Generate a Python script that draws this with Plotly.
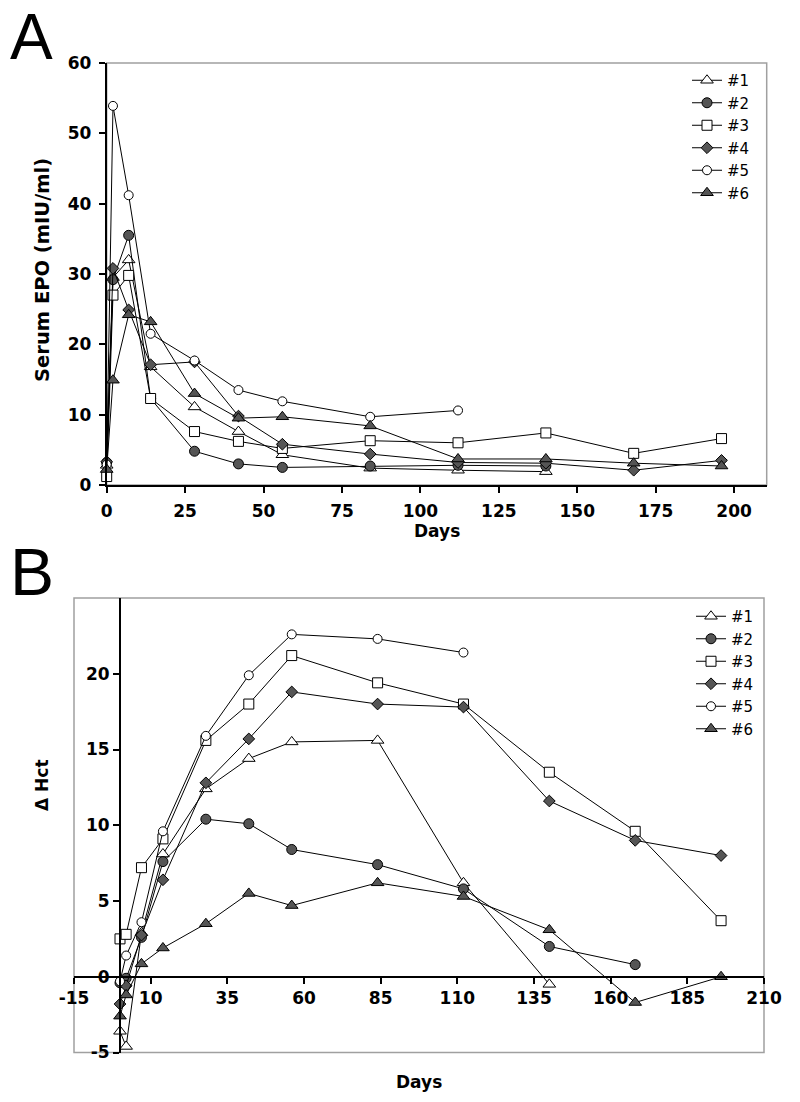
import plotly.graph_objects as go

W, H = 800, 1102

# ---------------- data ----------------
names = ["#1", "#2", "#3", "#4", "#5", "#6"]

days_a1 = [0, 2, 7, 14, 28, 42, 56, 84, 112, 140]
epo_1 = [2.8, 29.5, 32.0, 16.8, 11.1, 7.6, 4.3, 2.4, 2.1, 1.9]
days_a2 = [0, 2, 7, 14, 28, 42, 56, 84, 112, 140]
epo_2 = [3.2, 29.2, 35.5, 12.3, 4.8, 3.0, 2.5, 2.7, 2.8, 2.7]
days_a3 = [0, 2, 7, 14, 28, 42, 56, 84, 112, 140, 168, 196]
epo_3 = [1.2, 27.0, 29.8, 12.3, 7.6, 6.2, 5.2, 6.3, 6.0, 7.4, 4.5, 6.6]
days_a4 = [0, 2, 7, 14, 28, 42, 56, 84, 112, 140, 168, 196]
epo_4 = [3.3, 30.8, 24.9, 17.1, 17.5, 9.8, 5.8, 4.4, 3.2, 3.1, 2.1, 3.5]
days_a5 = [0, 2, 7, 14, 28, 42, 56, 84, 112]
epo_5 = [2.9, 53.9, 41.2, 21.5, 17.7, 13.5, 11.9, 9.7, 10.6]
days_a6 = [0, 2, 7, 14, 28, 42, 56, 84, 112, 140, 168, 196]
epo_6 = [2.2, 14.9, 24.2, 23.2, 13.0, 9.5, 9.7, 8.4, 3.7, 3.7, 3.1, 2.7]

days_b1 = [0, 2, 7, 14, 28, 42, 56, 84, 112, 140]
hct_1 = [-3.6, -4.6, 2.9, 8.1, 12.4, 14.4, 15.5, 15.6, 6.2, -0.5]
days_b2 = [0, 2, 7, 14, 28, 42, 56, 84, 112, 140, 168]
hct_2 = [-0.4, -0.1, 2.6, 7.6, 10.4, 10.1, 8.4, 7.4, 5.8, 2.0, 0.8]
days_b3 = [0, 2, 7, 14, 28, 42, 56, 84, 112, 140, 168, 196]
hct_3 = [2.5, 2.8, 7.2, 9.1, 15.6, 18.0, 21.2, 19.4, 18.0, 13.5, 9.6, 3.7]
days_b4 = [0, 2, 7, 14, 28, 42, 56, 84, 112, 140, 168, 196]
hct_4 = [-1.8, -0.6, 2.75, 6.4, 12.8, 15.7, 18.8, 18.0, 17.8, 11.6, 9.0, 8.0]
days_b5 = [0, 2, 7, 14, 28, 42, 56, 84, 112]
hct_5 = [-0.3, 1.4, 3.6, 9.6, 15.9, 19.9, 22.6, 22.3, 21.4]
days_b6 = [0, 2, 7, 14, 28, 42, 56, 84, 112, 140, 168, 196]
hct_6 = [-2.6, -1.2, 0.85, 1.9, 3.5, 5.5, 4.7, 6.2, 5.3, 3.1, -1.7, 0.0]

xticks_a = [0, 25, 50, 75, 100, 125, 150, 175, 200]
yticks_a = [0, 10, 20, 30, 40, 50, 60]
xticks_b = [-15, 10, 35, 60, 85, 110, 135, 160, 185, 210]
yticks_b = [-5, 0, 5, 10, 15, 20]

# ---------------- styles ----------------
GRAY = "#555555"
styles = [
    dict(symbol="triangle-up", color="white", size=11),
    dict(symbol="circle", color=GRAY, size=10),
    dict(symbol="square", color="white", size=10),
    dict(symbol="diamond", color=GRAY, size=9),
    dict(symbol="circle", color="white", size=9),
    dict(symbol="triangle-up", color=GRAY, size=11),
]

series_a = [(days_a1, epo_1), (days_a2, epo_2), (days_a3, epo_3),
            (days_a4, epo_4), (days_a5, epo_5), (days_a6, epo_6)]
series_b = [(days_b1, hct_1), (days_b2, hct_2), (days_b3, hct_3),
            (days_b4, hct_4), (days_b5, hct_5), (days_b6, hct_6)]

fig = go.Figure()
for i, (x, y) in enumerate(series_a):
    s = styles[i]
    fig.add_trace(go.Scatter(
        x=x, y=y, name=names[i], mode="lines+markers", xaxis="x", yaxis="y",
        line=dict(color="black", width=1), cliponaxis=False, legend="legend",
        marker=dict(symbol=s["symbol"], color=s["color"], size=s["size"],
                    line=dict(color="black", width=1))))
for i, (x, y) in enumerate(series_b):
    s = styles[i]
    fig.add_trace(go.Scatter(
        x=x, y=y, name=names[i], mode="lines+markers", xaxis="x2", yaxis="y2",
        line=dict(color="black", width=1), cliponaxis=False, legend="legend2",
        marker=dict(symbol=s["symbol"], color=s["color"], size=s["size"],
                    line=dict(color="black", width=1))))

def px(v):
    return v / W

def py(v):
    return 1 - v / H

FONT = "DejaVu Sans"
tickfont = dict(family=FONT, size=17, color="black", weight="bold")

# panel geometry (pixels)
A_L, A_R, A_T, A_B = 106.7, 766.7, 63, 485
B_L, B_R, B_T, B_B = 74, 764, 598, 1052.5
B_X0, B_Y0 = 120, 976.7

axis_common = dict(showgrid=False, zeroline=False, showline=True, linecolor="black",
                   linewidth=2, ticks="outside", ticklen=6, tickwidth=2, tickcolor="black",
                   tickfont=tickfont, automargin=False, fixedrange=True)

fig.update_layout(
    width=W, height=H, margin=dict(l=0, r=0, t=0, b=0),
    paper_bgcolor="white", plot_bgcolor="rgba(0,0,0,0)",
    xaxis=dict(domain=[px(A_L), px(A_R)], range=[0, 210.4], anchor="y",
               tickvals=xticks_a, ticklabelstandoff=4, **axis_common),
    yaxis=dict(domain=[py(A_B), py(A_T)], range=[0, 60], anchor="x",
               tickvals=yticks_a, ticklabelstandoff=4, **axis_common),
    xaxis2=dict(domain=[px(B_L), px(B_R)], range=[-15, 210], anchor="free",
                position=py(B_Y0), tickvals=xticks_b,
                ticktext=[str(v) for v in xticks_b], **axis_common),
    yaxis2=dict(domain=[py(B_B), py(B_T)], range=[-5, 25], anchor="free",
                position=px(B_X0), tickvals=yticks_b,
                ticktext=[str(v) for v in yticks_b], **axis_common),
    legend=dict(x=px(687), y=py(64), xanchor="left", yanchor="top",
                font=dict(family=FONT, size=15, color="black"),
                bgcolor="rgba(0,0,0,0)", tracegroupgap=0),
    legend2=dict(x=px(691), y=py(600), xanchor="left", yanchor="top",
                 font=dict(family=FONT, size=15, color="black"),
                 bgcolor="rgba(0,0,0,0)", tracegroupgap=0),
    showlegend=True,
)

GRAYLINE = "#a0a0a0"
fig.add_shape(type="rect", xref="paper", yref="paper",
              x0=px(A_L), x1=px(A_R), y0=py(A_B), y1=py(A_T),
              line=dict(color=GRAYLINE, width=1.5), layer="below")
fig.add_shape(type="rect", xref="paper", yref="paper",
              x0=px(B_L), x1=px(B_R), y0=py(B_B), y1=py(B_T),
              line=dict(color=GRAYLINE, width=1.5), layer="below")

title_font = dict(family=FONT, size=17, color="black", weight="bold")
ytitle_font = dict(family=FONT, size=19.5, color="black", weight="bold")
ann = [
    dict(text="A", x=px(8), y=py(37), xanchor="left", yanchor="middle",
         font=dict(family="Liberation Sans", size=64, color="black")),
    dict(text="B", x=px(8), y=py(572), xanchor="left", yanchor="middle",
         font=dict(family="Liberation Sans", size=66, color="black")),
    dict(text="Days", x=px((A_L + A_R) / 2), y=py(531), xanchor="center", yanchor="middle",
         font=title_font),
    dict(text="Serum EPO (mIU/ml)", x=px(42), y=py(270), xanchor="center", yanchor="middle",
         textangle=-90, font=ytitle_font),
    dict(text="Days", x=px((B_L + B_R) / 2), y=py(1082), xanchor="center", yanchor="middle",
         font=title_font),
    dict(text="Δ Hct", x=px(42), y=py(785), xanchor="center", yanchor="middle",
         textangle=-90, font=title_font),
]
for a in ann:
    a.update(xref="paper", yref="paper", showarrow=False)
fig.update_layout(annotations=ann)

fig.write_html("out.html", config={"displayModeBar": False},
               post_script="document.body.style.margin='0';document.body.style.overflow='hidden';")
